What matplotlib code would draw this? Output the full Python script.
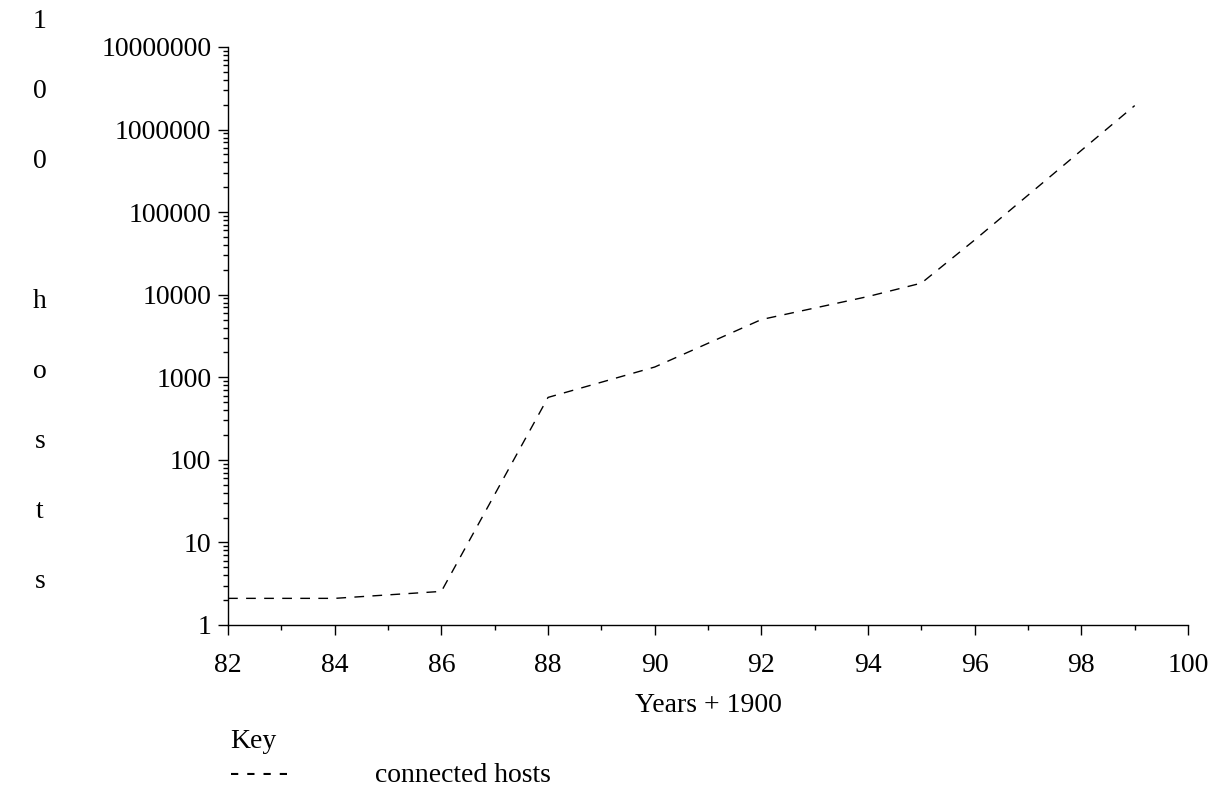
"""
Internet connected hosts vs year (log scale), dashed line, old-style plot.
Saved to out.png
"""
import numpy as np
import matplotlib
matplotlib.use("Agg")
import matplotlib.pyplot as plt
from matplotlib.ticker import FixedLocator, FuncFormatter, LogLocator, NullFormatter

years = [82, 84, 86, 88, 90, 92, 94, 95, 96, 99]
hosts = [2.1, 2.1, 2.55, 570, 1330, 5000, 9500, 13800, 46000, 1950000]
xticks = [82, 84, 86, 88, 90, 92, 94, 96, 98, 100]
yticks = [1, 10, 100, 1000, 10000, 100000, 1000000, 10000000]
ylabel_chars = ["1", "0", "0", "", "h", "o", "s", "t", "s"]

plt.rcParams["font.family"] = ["Liberation Serif", "DejaVu Serif"]
FS = 20

fig = plt.figure(figsize=(12.15, 7.92), dpi=100)
ax = fig.add_axes([0.1877, 0.2109, 0.9778 - 0.1877, 0.9407 - 0.2109])

ax.plot(years, hosts, color="black", lw=1.0, dashes=(7, 6))

ax.set_yscale("log")
ax.set_xlim(82, 100); ax.set_ylim(1, 1e7)
ax.xaxis.set_major_locator(FixedLocator(xticks))
ax.xaxis.set_minor_locator(FixedLocator(np.arange(82, 101, 1)))
ax.yaxis.set_major_locator(FixedLocator(yticks))
ax.yaxis.set_minor_locator(LogLocator(base=10, subs=np.arange(2, 10)))
ax.yaxis.set_minor_formatter(NullFormatter())
ax.yaxis.set_major_formatter(FuncFormatter(lambda v, p: f"{int(round(v))}"))
ax.tick_params(axis="both", which="major", direction="out", length=7, width=1,
               labelsize=FS, colors="black")
ax.tick_params(axis="both", which="minor", direction="out", length=3.5, width=1)
ax.tick_params(axis="x", which="major", pad=13)
ax.tick_params(axis="y", which="major", pad=5)
for s in ("top", "right"):
    ax.spines[s].set_visible(False)
for s in ("left", "bottom"):
    ax.spines[s].set_linewidth(1.0)

ax.set_xlabel("Years + 1900", fontsize=FS, labelpad=11)

# vertical stacked y label
for i, ch in enumerate(ylabel_chars):
    fig.text(40 / 1215, 1 - (22 + 70 * i) / 792, ch, fontsize=FS,
             ha="center", va="center")

# key
fig.text(230 / 1215, 1 - 741 / 792, "Key", fontsize=FS, ha="left", va="center")
fig.text(230 / 1215, 1 - 774 / 792, "- - - -", fontsize=FS, ha="left", va="center")
fig.text(375 / 1215, 1 - 776 / 792, "connected hosts", fontsize=FS, ha="left", va="center")

fig.savefig("out.png", dpi=100)
